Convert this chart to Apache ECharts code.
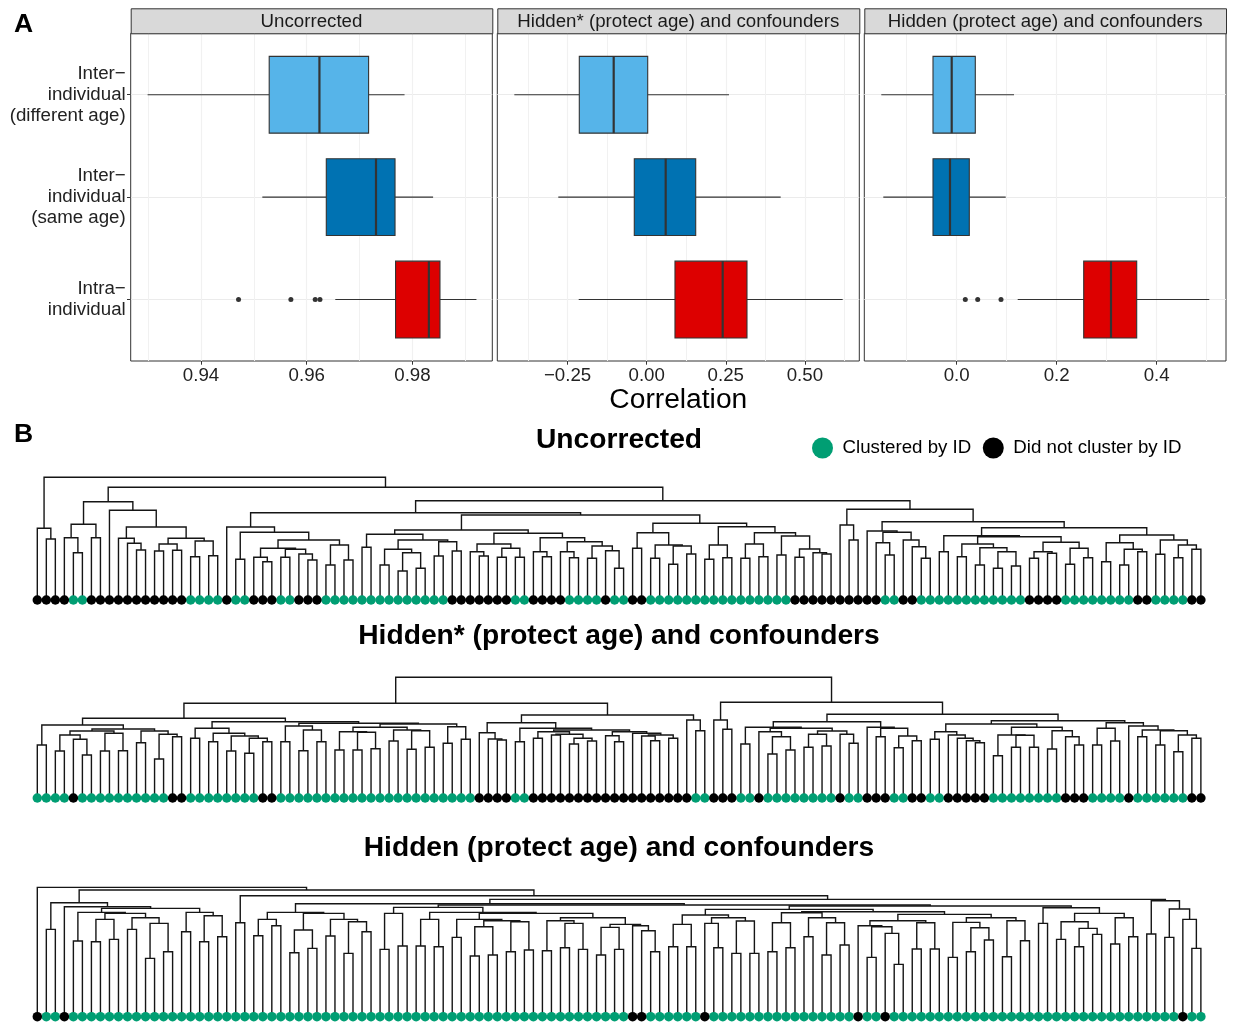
<!DOCTYPE html>
<html>
<head>
<meta charset="utf-8">
<script src="https://cdn.jsdelivr.net/npm/echarts@6/dist/echarts.min.js"></script>
<style>
  html, body { margin: 0; padding: 0; background: #fff; }
  #chart { width: 1233px; height: 1024px; }
</style>
</head>
<body>
<div id="chart"></div>
<script>
// ---------- Panel A: correlation distributions ----------
const groupLabels = ['Inter\u2212\nindividual\n(different age)', 'Inter\u2212\nindividual\n(same age)', 'Intra\u2212\nindividual'];
const facetTitles = ['Uncorrected', 'Hidden* (protect age) and confounders', 'Hidden (protect age) and confounders'];
// each row: [lower whisker, Q1, median, Q3, upper whisker]
const boxUncorrected = [[0.9299, 0.9529, 0.9624, 0.9717, 0.9785], [0.9516, 0.9637, 0.9731, 0.9767, 0.9839], [0.9654, 0.9768, 0.9831, 0.9852, 0.9921]];
const boxHiddenStar  = [[-0.4184, -0.2130, -0.1043, 0.0032, 0.2601], [-0.2794, -0.0392, 0.0600, 0.1549, 0.4235], [-0.2149, 0.0894, 0.2402, 0.3170, 0.6195]];
const boxHidden      = [[-0.1508, -0.0474, -0.0100, 0.0372, 0.1146], [-0.1468, -0.0474, -0.0134, 0.0252, 0.0980], [0.1220, 0.2540, 0.3086, 0.3600, 0.5052]];
// outliers of the intra-individual group
const outUncorrected = [0.9471, 0.9570, 0.9616, 0.9625];
const outHiddenStar  = [];
const outHidden      = [0.0172, 0.0420, 0.0886];

// ---------- Panel B: hierarchical clustering trees ----------
// node = [merge height, left, right]; a bare number is a leaf (its position in the leaf order)
const treeUncorrected =
[122.7, [71.7, 0, [61, 1, 2]],
 [112.7,
  [98.3, [75.7, [62.3, 3, [47.3, 4, 5]], [62.3, 6, 7]],
         [89.7, 8, [73, [61.7, 9, [56.7, 10, [50, 11, 12]]],
                      [61.7, [56, [49, 13, 14], [49.7, 15, 16]], [59, [43.3, 17, 18], [44.3, 19, 20]]]]]],
  [99.3,
   [87.3,
    [73, 21, [67.7, [40.7, 22, 23],
              [60, [51.7, [42.7, 24, [38.3, 25, 26]], [50.7, [42.7, 27, 28], [46, 29, [40, 30, 31]]]],
                   [55, [35, 32, 33], [40, 34, 35]]]]],
    [85,
     [70, [65.7, [52.7, 36, 37],
               [60, [50.7, [35, 38, 39], [47.3, [29, 40, 41], [31.7, 42, 43]]], [58.3, [44, 44, 45], [49, 46, 47]]]],
          [66.7, [56, [48.3, 48, [44, 49, 50]], [51.7, [42.7, 51, 52], [42.7, 53, 54]]],
                 [62.3, [48.3, 55, [43.3, 56, 57]],
                        [58.3, [48.3, 58, [42.3, 59, 60]], [54, [41.7, 61, 62], [49.3, 63, [31.7, 64, 65]]]]]]],
     [76.7, [67.3, [51.7, 66, 67], [55, [41.7, 68, 69], [54, [35.7, 70, 71], [46, 72, 73]]]],
            [73.3, [55, [40.7, 74, 75], [42.3, 76, 77]],
                   [67.3, [56, [41.7, 78, 79], [43.3, 80, 81]],
                          [64, [45, 82, 83], [51, [42.7, 84, 85], [47.3, 86, [46, 87, 88]]]]]]]]],
   [90.7, [75, 89, [60, 90, 91]],
    [78.3,
     [69, 92, [67.7, [57.3, 93, [45, 94, 95]], [60, 96, [53.3, 97, [41.7, 98, 99]]]]],
     [72.3,
      [64.3, [48.3, 100, 101],
             [63.3, [56, [43.3, 102, 103], [52.3, [35, 104, 105], [48.3, [31.7, 106, 107], [34, 108, 109]]]],
                    [57.7, [48.3, [41.7, 110, 111], [46.7, 112, 113]], [51.7, [35.7, 114, 115], [42.3, 116, 117]]]]],
      [65, [57.3, [38.3, 118, 119], [50.7, [35, 120, 121], [48.3, 122, 123]]],
           [60, [45.7, 124, 125], [55, [42.3, 126, 127], [50.7, 128, 129]]]]]]]]]];

const treeHiddenStar =
[120.7,
 [94.7,
  [79.7,
   [73, [53, 0, 1],
        [69, [67, [63, [47, 2, 3], [58.7, 4, [43, 5, 6]]], [64.7, [47, 7, 8], [47.3, 9, 10]]],
             [67, [55.3, 11, 12], [63.7, [39, 13, 14], [61.3, 15, 16]]]]],
   [76.3,
    [69.7, [59.7, 17, 18], [64.7, [56.3, 19, 20], [62, [47, 21, 22], [59.7, [44.7, 23, 24], [56.3, 25, 26]]]]],
    [74.7, [72, [56.3, 27, 28], [68, [47.3, 29, 30], [56.3, 31, 32]]],
           [74, [70.7, [66.3, [48, 33, 34], [65.7, [48, 35, 36], [49.3, 37, 38]]],
                       [68, [57, 39, 40], [67.3, [48.7, 41, 42], [50.7, 43, 44]]]],
                [71.3, [54.7, 45, 46], [58.7, 47, 48]]]]]],
  [83,
   [75.3, [65.3, 49, [59, 50, [58, 51, 52]]],
          [69.7, [56.3, 53, 54],
                 [68, [66.3, [59.7, 55, 56], [63.7, [63, 57, 58], [59.7, [54, 59, 60], [57, 61, 62]]]],
                      [66.3, [62.3, 63, [56.3, 64, 65]], [64.7, 66, [63, [62, 67, [57.3, 68, 69]], [59.7, 70, 71]]]]]]],
   [78, 72, [67.3, 73, 74]]]],
 [95.7, [78, 75, [68.7, 76, 77]],
  [83.7,
   [76.3,
    [70.7, [54, 78, 79],
           [69.7, [66.3, 80, [61.3, [44, 81, 82], [48, 83, 84]]],
                  [67, [63.7, [50.7, 85, 86], [52, 87, 88]], [63.7, 89, [54.7, 90, 91]]]]],
    [70.7, 92, [69.7, [61.3, 93, 94], [62, [50.3, 95, 96], [57.3, 97, 98]]]]],
   [77.3,
    [74, [66.3, [58.7, 99, 100], [63, 101, [59.7, 102, [57.3, 103, [55.3, 104, 105]]]]],
         [70.7, [63, [42.3, 106, 107], [62.7, [50.7, 108, 109], [50.7, 110, 111]]],
                [67.3, [49, 112, 113], [61.3, 114, [53, 115, 116]]]]],
    [75.3, [69.7, [53, 117, 118], [57, 119, 120]],
           [72, 121, [68, [61.3, 122, 123], [67.3, [53, 124, 125], [63, [46.3, 126, 127], [59.7, 128, 129]]]]]]]]]];

const treeHidden =
[129.3, 0,
 [126.7,
  [114, [87.3, 1, 2],
        [110, 3,
         [108.3,
          [104.3, [75.7, 4, 5],
                  [103.3, [97.3, [75, 6, 7], [77.3, 8, 9]],
                          [99, [87.3, 10, 11], [93.3, [58.3, 12, 13], [65, 14, 15]]]]],
          [104.3, [85, 16, 17], [101, [75, 18, 19], [80, 20, 21]]]]]],
  [121, [94, 22, 23],
   [117.3,
    [113,
     [104.3, [97.3, [81, 24, 25], [91, 26, 27]],
             [103.3, [86.7, [64, 28, 29], [68.3, 30, 31]],
                     [97.3, [80.7, 32, 33], [95, [63.3, 34, 35], [85, 36, 37]]]]],
     [111.7,
      [109.3, [103.3, [67.3, 38, 39], [70.7, 40, 41]],
              [104.3, [97.3, [70.7, 42, 43], [70, 44, 45]],
                      [103.3, [97.3, [79.3, 46, 47], [96, [90, [60.7, 48, 49], [61.7, 50, 51]], [95, [65, 52, 53], [66.7, 54, 55]]]],
                              [99, [96, [66, 56, 57], [93.3, [69, 58, 59], [67.3, 60, 61]]],
                                   [92.3, [89.3, [61.7, 62, 63], [67.3, 64, 65]], [91, 66, [86, 67, [65, 68, 69]]]]]]]],
      [110.7,
       [107.3,
        [101.7, [92.3, [70, 70, 71], [70, 72, 73]],
                [99, [93.3, 74, [69, 75, 76]], [95.7, [63.3, 77, 78], [63.3, 79, 80]]]],
        [105,
         [104, [94, [65, 81, 82], [69, 83, 84]], [99, [80, 85, 86], [94, [61.7, 87, 88], [71.7, 89, 90]]]],
         [102.3,
          [96, [91, 91, [90, [59.3, 92, 93], [83.3, 94, [52.3, 95, 96]]]], [94, [67.7, 97, 98], [67.7, 99, 100]]],
          [99, [94.3, [59.3, 101, 102], [89, [65, 103, 104], [76.7, 105, 106]]], [96, [60, 107, 108], [76, 109, 110]]]]]],
       [109, [93.3, 111, 112],
             [103.3, [95, [77.3, 113, 114], [88.3, [70, 115, 116], [82.3, 117, 118]]],
                     [99, [72.7, 119, 120], [80, 121, 122]]]]]]],
    [116, [82.7, 123, 124], [107.7, [79.3, 125, 126], [97.3, 127, [68.3, 128, 129]]]]]]]];

// 1 = leaf clustered with its own ID, 0 = did not cluster by ID (in leaf order)
const idUncorrected = [
  0,0,0,0,1,1,0,0,0,0, 0,0,0,0,0,0,0,1,1,1, 1,0,1,1,0,0,0,1,1,0, 0,0,1,1,1,1,1,1,1,1,
  1,1,1,1,1,1,0,0,0,0, 0,0,0,1,1,0,0,0,0,1, 1,1,1,0,1,1,0,0,1,1, 1,1,1,1,1,1,1,1,1,1,
  1,1,1,1,0,0,0,0,0,0, 0,0,0,0,1,1,0,0,1,1, 1,1,1,1,1,1,1,1,1,1, 0,0,0,0,1,1,1,1,1,1,
  1,1,0,0,1,1,1,1,0,0];
const idHiddenStar = [
  1,1,1,1,0,1,1,1,1,1, 1,1,1,1,1,0,0,1,1,1, 1,1,1,1,1,0,0,1,1,1, 1,1,1,1,1,1,1,1,1,1,
  1,1,1,1,1,1,1,1,1,0, 0,0,0,1,1,0,0,0,0,0, 0,0,0,0,0,0,0,0,0,0, 0,0,0,1,1,0,0,0,1,1,
  0,1,1,1,1,1,1,1,1,0, 1,1,0,0,0,1,1,0,0,1, 1,0,0,0,0,0,1,1,1,1, 1,1,1,1,0,0,0,1,1,1,
  1,0,1,1,1,1,1,1,0,0];
const idHidden = [
  0,1,1,0,1,1,1,1,1,1, 1,1,1,1,1,1,1,1,1,1, 1,1,1,1,1,1,1,1,1,1, 1,1,1,1,1,1,1,1,1,1,
  1,1,1,1,1,1,1,1,1,1, 1,1,1,1,1,1,1,1,1,1, 1,1,1,1,1,1,0,0,1,1, 1,1,1,1,0,1,1,1,1,1,
  1,1,1,1,1,1,1,1,1,1, 1,0,1,1,0,1,1,1,1,1, 1,1,1,1,1,1,1,1,1,1, 1,1,1,1,1,1,1,1,1,1,
  1,1,1,1,1,1,1,0,1,1];

// ---------- styling ----------
const FONT = '"Liberation Sans", Arial, Helvetica, sans-serif';
const groupColors = ['#56B4E9', '#0072B2', '#DD0000'];
const INK = '#333333';
const LABEL = '#222222';
const GREEN = '#009E73';
const GRID_MAJOR = '#EBEBEB';
const GRID_MINOR = '#F1F1F1';

const facets = [
  { boxes: boxUncorrected, outliers: outUncorrected, min: 0.9267, max: 0.9951, step: 0.02, minor: 0.01,
    fmt: v => v.toFixed(2), left: 130.7, width: 361.6 },
  { boxes: boxHiddenStar, outliers: outHiddenStar, min: -0.4722, max: 0.672, step: 0.25, minor: 0.125,
    fmt: v => (v < -1e-9 ? '\u2212' : '') + Math.abs(v).toFixed(2), left: 497.3, width: 362 },
  { boxes: boxHidden, outliers: outHidden, min: -0.1848, max: 0.5386, step: 0.2, minor: 0.1,
    fmt: v => (v < -1e-9 ? '\u2212' : '') + Math.abs(v).toFixed(1), left: 864.3, width: 361.7 }
];
const PANEL_TOP = 33.3, PANEL_H = 327.7, STRIP_TOP = 8.3;

const dendros = [
  { tree: treeUncorrected, ids: idUncorrected, title: 'Uncorrected', titleY: 440, base: 600 },
  { tree: treeHiddenStar, ids: idHiddenStar, title: 'Hidden* (protect age) and confounders', titleY: 636, base: 798 },
  { tree: treeHidden, ids: idHidden, title: 'Hidden (protect age) and confounders', titleY: 848, base: 1016.7 }
];
const LEAF_LEFT = 37.3, LEAF_STEP = 9.02, DENDRO_SPAN = 130;

// turn a nested tree into elbow segments: [xLeft, hLeft, xRight, hRight, hNode]
function treeSegments(tree) {
  const segs = [];
  (function walk(n) {
    if (typeof n === 'number') return { x: n, h: 0 };
    const a = walk(n[1]), b = walk(n[2]);
    segs.push([a.x, a.h, b.x, b.h, n[0]]);
    return { x: (a.x + b.x) / 2, h: n[0] };
  })(tree);
  return segs;
}

const grid = [], xAxis = [], yAxis = [], series = [], graphic = [];

// ----- boxplot facets -----
facets.forEach((f, i) => {
  grid.push({ left: f.left, top: PANEL_TOP, width: f.width, height: PANEL_H, show: true,
              borderColor: INK, borderWidth: 1, backgroundColor: '#fff', containLabel: false });
  xAxis.push({
    gridIndex: i, type: 'value', min: f.min, max: f.max, minInterval: f.step, maxInterval: f.step,
    axisLine: { show: false },
    axisTick: { show: true, length: 3.7, lineStyle: { color: INK, width: 1 } },
    axisLabel: { show: true, formatter: f.fmt, showMinLabel: false, showMaxLabel: false,
                 fontSize: 18.7, fontFamily: FONT, color: LABEL, margin: 5 },
    splitLine: { show: true, showMinLine: false, showMaxLine: false, lineStyle: { color: GRID_MAJOR, width: 1.1 } },
    name: i === 1 ? 'Correlation' : '', nameLocation: 'middle', nameGap: 19,
    nameTextStyle: { fontSize: 28.2, fontFamily: FONT, color: '#000' }
  });
  yAxis.push({
    gridIndex: i, type: 'value', inverse: true, min: 0.4, max: 3.6, minInterval: 1, maxInterval: 1,
    axisLine: { show: false },
    axisTick: { show: i === 0, length: 3.7, lineStyle: { color: INK, width: 1 } },
    axisLabel: { show: i === 0, showMinLabel: false, showMaxLabel: false,
                 formatter: v => groupLabels[Math.round(v) - 1] || '',
                 fontSize: 18.7, lineHeight: 21, fontFamily: FONT, color: LABEL, align: 'right', margin: 5,
                 padding: [10, 0, 0, 0] },
    splitLine: { show: true, showMinLine: false, showMaxLine: false, lineStyle: { color: GRID_MAJOR, width: 1.1 } }
  });
});
// minor vertical grid lines
facets.forEach((f, i) => {
  xAxis.push({
    gridIndex: i, type: 'value', position: 'top', min: f.min, max: f.max, minInterval: f.minor, maxInterval: f.minor,
    axisLine: { show: false }, axisTick: { show: false }, axisLabel: { show: false },
    splitLine: { show: true, showMinLine: false, showMaxLine: false, lineStyle: { color: GRID_MINOR, width: 1 } }
  });
});
facets.forEach((f, i) => {
  series.push({
    type: 'custom', xAxisIndex: 3 + i, yAxisIndex: i, silent: true, z: 1,
    data: [[0]], renderItem: () => ({ type: 'group', children: [] })
  });
  series.push({
    type: 'custom', xAxisIndex: i, yAxisIndex: i, z: 3, silent: true,
    data: f.boxes.map((b, r) => [r + 1].concat(b)),
    encode: { x: [1, 2, 3, 4, 5], y: 0 },
    renderItem: (params, api) => {
      const row = api.value(0);
      const lo = api.value(1), q1 = api.value(2), md = api.value(3), q3 = api.value(4), hi = api.value(5);
      const pLo = api.coord([lo, row]), pQ1 = api.coord([q1, row]), pQ3 = api.coord([q3, row]), pHi = api.coord([hi, row]);
      const top = api.coord([q1, row - 0.375])[1], bot = api.coord([q1, row + 0.375])[1];
      const xm = api.coord([md, row])[0];
      const y0 = Math.min(top, bot), hgt = Math.abs(bot - top);
      return {
        type: 'group',
        children: [
          { type: 'line', shape: { x1: pLo[0], y1: pLo[1], x2: pQ1[0], y2: pQ1[1] }, style: { stroke: INK, lineWidth: 1.1 } },
          { type: 'line', shape: { x1: pQ3[0], y1: pQ3[1], x2: pHi[0], y2: pHi[1] }, style: { stroke: INK, lineWidth: 1.1 } },
          { type: 'rect', shape: { x: pQ1[0], y: y0, width: pQ3[0] - pQ1[0], height: hgt },
            style: { fill: groupColors[row - 1], stroke: INK, lineWidth: 1.1 } },
          { type: 'line', shape: { x1: xm, y1: y0, x2: xm, y2: y0 + hgt }, style: { stroke: INK, lineWidth: 2.2 } }
        ]
      };
    }
  });
  series.push({
    type: 'scatter', xAxisIndex: i, yAxisIndex: i, z: 4, silent: true,
    symbolSize: 5, itemStyle: { color: INK, opacity: 1 },
    data: f.outliers.map(v => [v, 3])
  });
  // facet strip
  graphic.push({
    type: 'rect', left: f.left, top: STRIP_TOP, z: 10,
    shape: { width: f.width, height: PANEL_TOP - STRIP_TOP },
    style: { fill: '#D9D9D9', stroke: INK, lineWidth: 1 }
  });
  graphic.push({
    type: 'text', x: f.left + f.width / 2, y: (STRIP_TOP + PANEL_TOP) / 2 + 1, z: 11,
    style: { text: facetTitles[i], font: '18.7px ' + FONT, fill: '#1A1A1A', align: 'center', verticalAlign: 'middle' }
  });
});

// ----- dendrograms -----
dendros.forEach((d, k) => {
  const gi = 3 + k;
  grid.push({ left: LEAF_LEFT, width: LEAF_STEP * (d.ids.length - 1), top: d.base - DENDRO_SPAN, height: DENDRO_SPAN, show: false });
  xAxis.push({ gridIndex: gi, type: 'value', min: 0, max: d.ids.length - 1, show: false });
  yAxis.push({ gridIndex: gi, type: 'value', min: 0, max: DENDRO_SPAN, show: false });
  const xi = 6 + k, yi = 3 + k;
  series.push({
    type: 'custom', xAxisIndex: xi, yAxisIndex: yi, silent: true, z: 2,
    data: treeSegments(d.tree),
    encode: { x: [0, 2], y: [1, 3, 4] },
    renderItem: (params, api) => {
      const a = api.coord([api.value(0), api.value(1)]);
      const b = api.coord([api.value(0), api.value(4)]);
      const c = api.coord([api.value(2), api.value(4)]);
      const e = api.coord([api.value(2), api.value(3)]);
      return { type: 'polyline', shape: { points: [a, b, c, e] },
               style: { stroke: '#151515', lineWidth: 1.4, fill: null } };
    }
  });
  series.push({
    name: 'Clustered by ID', type: 'scatter', xAxisIndex: xi, yAxisIndex: yi, z: 5, silent: true,
    symbolSize: 9.5, itemStyle: { color: GREEN, opacity: 1 },
    data: d.ids.map((v, i) => v === 1 ? [i, 0] : null).filter(Boolean)
  });
  series.push({
    name: 'Did not cluster by ID', type: 'scatter', xAxisIndex: xi, yAxisIndex: yi, z: 5, silent: true,
    symbolSize: 9.5, itemStyle: { color: '#000', opacity: 1 },
    data: d.ids.map((v, i) => v === 0 ? [i, 0] : null).filter(Boolean)
  });
  graphic.push({
    type: 'text', x: 619, y: d.titleY,
    style: { text: d.title, font: 'bold 28.2px ' + FONT, fill: '#000', align: 'center', verticalAlign: 'middle' }
  });
});

// panel letters
graphic.push({ type: 'text', x: 14, y: 25, style: { text: 'A', font: 'bold 26.5px ' + FONT, fill: '#000', verticalAlign: 'middle' } });
graphic.push({ type: 'text', x: 14, y: 435, style: { text: 'B', font: 'bold 26.5px ' + FONT, fill: '#000', verticalAlign: 'middle' } });

const chart = echarts.init(document.getElementById('chart'), null, { renderer: 'canvas', width: 1233, height: 1024 });
chart.setOption({
  animation: false,
  backgroundColor: '#fff',
  textStyle: { fontFamily: FONT },
  grid, xAxis, yAxis, series, graphic,
  legend: {
    left: 812, top: 437.5, padding: 0, itemGap: 11.5, itemWidth: 30, itemHeight: 21, icon: 'circle',
    selectedMode: false,
    data: ['Clustered by ID', 'Did not cluster by ID'],
    textStyle: { fontSize: 18.7, fontFamily: FONT, color: '#000' }
  }
});
</script>
</body>
</html>
